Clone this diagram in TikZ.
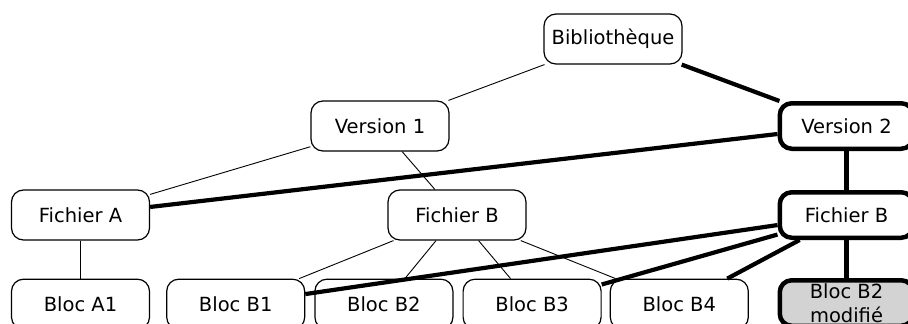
\documentclass[tikz,border=0pt]{standalone}
\usepackage{fontspec}
\setmainfont{DejaVu Sans}
\usepackage{xcolor}
\usepackage{tikz}
\usetikzlibrary{positioning}
\definecolor{cLine}{HTML}{000000}
\definecolor{cMod}{HTML}{D3D3D3}
\tikzset{
  blk/.style={draw=cLine, line width=1.2pt, rounded corners=12pt, fill=white,
              minimum width=138pt, minimum height=50pt, inner sep=0pt,
              align=center, font=\fontsize{19.5}{24.5}\selectfont},
  blkN/.style={blk, line width=4.5pt, minimum width=133.5pt, minimum height=45.5pt},
  blkM/.style={blkN, fill=cMod},
  lnk/.style={cLine, line width=0.9pt},
  lnkN/.style={cLine, line width=4.2pt}
}
\begin{document}
\begin{tikzpicture}[x=1pt, y=-1pt]
\clip (0,0) rectangle (908,324);
\node[blk] (bib) at (613,39) {Bibliothèque};
\node[blk] (v1) at (380,126) {Version 1};
\node[blkN] (v2) at (846.5,126) {Version 2};
\node[blk] (fa) at (80.5,215) {Fichier A};
\node[blk] (fb) at (457,215) {Fichier B};
\node[blkN] (fbn) at (846.5,215) {Fichier B};
\node[blk, below=38pt of fa] (ba1) {Bloc A1};
\node[blk, right=16pt of ba1] (bb1) {Bloc B1};
\node[blk, right=9pt of bb1] (bb2) {Bloc B2};
\node[blk, right=9pt of bb2] (bb3) {Bloc B3};
\node[blk, right=8pt of bb3] (bb4) {Bloc B4};
\node[blkM, below=38pt of fbn] (bb2m) {Bloc B2\\modifié};
\draw[lnk] (bib)--(v1); \draw[lnk] (v1)--(fa); \draw[lnk] (v1)--(fb);
\draw[lnk] (fa)--(ba1); \draw[lnk] (fb)--(bb1); \draw[lnk] (fb)--(bb2);
\draw[lnk] (fb)--(bb3); \draw[lnk] (fb)--(bb4);
\draw[lnkN] (bib)--(v2); \draw[lnkN] (v2)--(fa); \draw[lnkN] (v2)--(fbn);
\draw[lnkN] (fbn)--(bb1); \draw[lnkN] (fbn)--(bb3); \draw[lnkN] (fbn)--(bb4);
\draw[lnkN] (fbn)--(bb2m);
\end{tikzpicture}
\end{document}
